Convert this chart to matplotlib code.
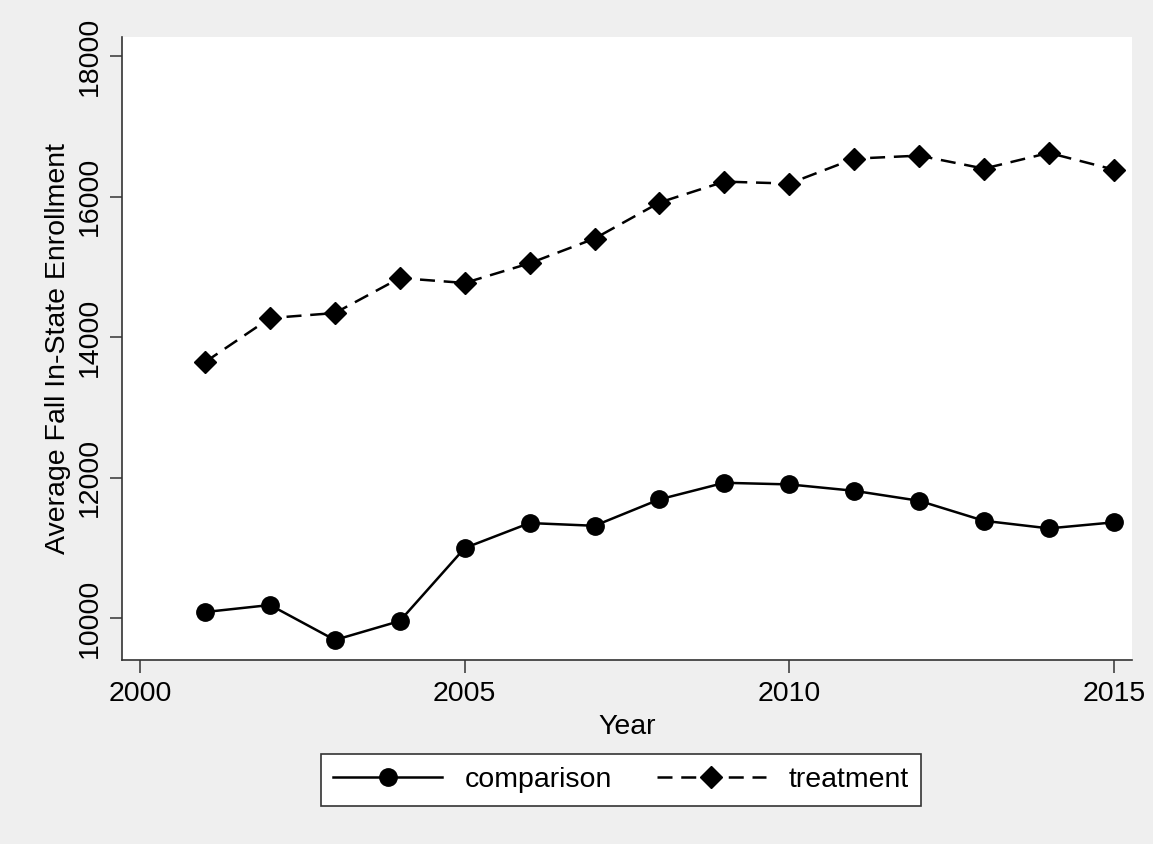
import matplotlib.pyplot as plt
from matplotlib.lines import Line2D

plt.rcParams['font.family'] = ['Liberation Sans', 'DejaVu Sans']

# data
years = [2001, 2002, 2003, 2004, 2005, 2006, 2007, 2008,
         2009, 2010, 2011, 2012, 2013, 2014, 2015]
comparison = [10085, 10185, 9687, 9957, 10996, 11352, 11313, 11689,
              11925, 11902, 11811, 11669, 11384, 11276, 11362]
treatment = [13644, 14270, 14342, 14840, 14770, 15050, 15402, 15915,
             16213, 16185, 16540, 16583, 16398, 16622, 16384]
x_ticks = [2000, 2005, 2010, 2015]
y_ticks = [10000, 12000, 14000, 16000, 18000]

bg = '#efefef'
fs = 20.5

fig = plt.figure(figsize=(11.53, 8.44), dpi=100, facecolor=bg)
ax = fig.add_axes([0.1058, 0.218, 0.876, 0.738])
ax.set_facecolor('white')

ax.plot(years, comparison, color='black', lw=1.8, marker='o', ms=12.5,
        label='comparison')
ax.plot(years, treatment, color='black', lw=1.8, ls=(0, (6, 3.5)),
        marker='D', ms=11.5, label='treatment')

ax.set_xlim(1999.72, 2015.28)
ax.set_ylim(9402, 18270)
ax.set_xticks(x_ticks)
ax.set_yticks(y_ticks)
ax.set_yticklabels([str(v) for v in y_ticks], rotation=90, va='center')

for side in ['top', 'right']:
    ax.spines[side].set_visible(False)
for side in ['left', 'bottom']:
    ax.spines[side].set_color('#333333')
    ax.spines[side].set_linewidth(1.2)

ax.tick_params(axis='both', direction='out', length=9, width=1.1,
               color='#333333', labelsize=fs)
ax.tick_params(axis='x', pad=6)
ax.tick_params(axis='y', pad=5)

ax.set_xlabel('Year', fontsize=fs, labelpad=5)
ax.set_ylabel('Average Fall In-State Enrollment', fontsize=fs, labelpad=4)

handles = [
    Line2D([], [], color='black', lw=1.8, marker='o', ms=12.5),
    Line2D([], [], color='black', lw=1.8, ls=(0, (6, 3.5)), marker='D', ms=11.5),
]
leg = fig.legend(handles, ['comparison', 'treatment'], loc='center',
                 bbox_to_anchor=(0.5386, 0.0758), ncol=2, fontsize=fs,
                 frameon=True, fancybox=False, edgecolor='#333333',
                 framealpha=1.0, facecolor='white',
                 handlelength=3.8, columnspacing=1.6, handletextpad=0.8,
                 borderpad=0.45, markerscale=1.0)
leg.get_frame().set_linewidth(1.2)

fig.savefig('out.png', dpi=100, facecolor=bg)
